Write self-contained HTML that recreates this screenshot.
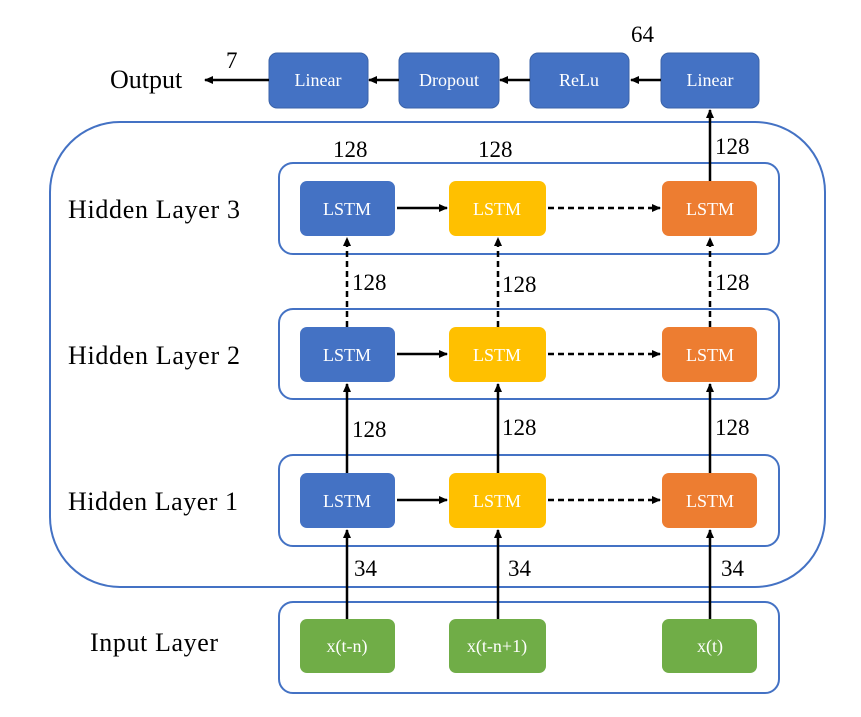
<!DOCTYPE html>
<html><head><meta charset="utf-8"><style>
body{margin:0;background:#fff}
svg, svg text{font-family:"Liberation Serif","DejaVu Serif",serif !important}
</style></head><body>
<svg width="861" height="712" viewBox="0 0 861 712" xmlns="http://www.w3.org/2000/svg" font-family="Liberation Serif, serif">
<defs>
<marker id="a" markerWidth="10" markerHeight="10" refX="8" refY="5" orient="auto" markerUnits="userSpaceOnUse">
<path d="M0,1 L9,5 L0,9 z" fill="#000"/></marker>
</defs>
<rect x="50" y="122" width="775" height="465" rx="70" fill="none" stroke="#4472c4" stroke-width="2"/>
<g fill="none" stroke="#4472c4" stroke-width="2">
<rect x="279" y="163" width="500" height="91" rx="14"/>
<rect x="279" y="309" width="500" height="90" rx="14"/>
<rect x="279" y="455" width="500" height="91" rx="14"/>
<rect x="279" y="602" width="500" height="91" rx="14"/>
</g>
<g fill="#4472c4" stroke="#3a62a8" stroke-width="1">
<rect x="269" y="53" width="99" height="55" rx="8"/>
<rect x="399" y="53" width="100" height="55" rx="8"/>
<rect x="530" y="53" width="99" height="55" rx="8"/>
<rect x="661" y="53" width="98" height="55" rx="8"/>
</g>
<g fill="#fff" font-size="18" text-anchor="middle">
<text x="318" y="86">Linear</text><text x="449" y="86">Dropout</text>
<text x="579" y="86">ReLu</text><text x="710" y="86">Linear</text>
</g>
<g stroke="#000" stroke-width="2.5" marker-end="url(#a)">
<line x1="269" y1="80" x2="205" y2="80"/>
<line x1="399" y1="80" x2="369" y2="80"/>
<line x1="530" y1="80" x2="500" y2="80"/>
<line x1="661" y1="80" x2="631" y2="80"/>
<line x1="710" y1="181" x2="710" y2="110"/>
</g>
<text x="110" y="88" font-size="26">Output</text>
<text x="226" y="68" font-size="23">7</text>
<text x="631" y="42" font-size="23">64</text>
<g font-size="23">
<text x="333" y="157">128</text><text x="478" y="157">128</text><text x="715" y="154">128</text>
<text x="352" y="290">128</text><text x="502" y="292">128</text><text x="715" y="290">128</text>
<text x="352" y="437">128</text><text x="502" y="435">128</text><text x="715" y="435">128</text>
<text x="354" y="576">34</text><text x="508" y="576">34</text><text x="721" y="576">34</text>
</g>
<g font-size="26">
<text x="68" y="218" textLength="172">Hidden Layer 3</text>
<text x="68" y="364" textLength="172">Hidden Layer 2</text>
<text x="68" y="510" textLength="170">Hidden Layer 1</text>
<text x="90" y="651" textLength="128">Input Layer</text>
</g>
<g id="row">
<rect x="300" y="181" width="95" height="55" rx="7" fill="#4472c4"/>
<rect x="449" y="181" width="97" height="55" rx="7" fill="#ffc000"/>
<rect x="662" y="181" width="95" height="55" rx="7" fill="#ed7d31"/>
</g>
<use href="#row" y="146"/><use href="#row" y="292"/>
<g fill="#fff" font-size="18" text-anchor="middle">
<text x="347" y="215">LSTM</text><text x="497" y="215">LSTM</text><text x="710" y="215">LSTM</text>
<text x="347" y="361">LSTM</text><text x="497" y="361">LSTM</text><text x="710" y="361">LSTM</text>
<text x="347" y="507">LSTM</text><text x="497" y="507">LSTM</text><text x="710" y="507">LSTM</text>
</g>
<g fill="#70ad47">
<rect x="300" y="619" width="95" height="54" rx="7"/>
<rect x="449" y="619" width="97" height="54" rx="7"/>
<rect x="662" y="619" width="95" height="54" rx="7"/>
</g>
<g fill="#fff" font-size="18" text-anchor="middle">
<text x="347" y="652">x(t-n)</text><text x="497" y="652">x(t-n+1)</text><text x="710" y="652">x(t)</text>
</g>
<g stroke="#000" stroke-width="2.5" marker-end="url(#a)">
<line x1="397" y1="208" x2="447" y2="208"/>
<line x1="397" y1="354" x2="447" y2="354"/>
<line x1="397" y1="500" x2="447" y2="500"/>
<line x1="347" y1="473" x2="347" y2="384"/>
<line x1="498" y1="473" x2="498" y2="384"/>
<line x1="710" y1="473" x2="710" y2="384"/>
<line x1="347" y1="619" x2="347" y2="530"/>
<line x1="498" y1="619" x2="498" y2="530"/>
<line x1="710" y1="619" x2="710" y2="530"/>
</g>
<g stroke="#000" stroke-width="2.5" stroke-dasharray="6,4" marker-end="url(#a)">
<line x1="548" y1="208" x2="660" y2="208"/>
<line x1="548" y1="354" x2="660" y2="354"/>
<line x1="548" y1="500" x2="660" y2="500"/>
<line x1="347" y1="327" x2="347" y2="238"/>
<line x1="498" y1="327" x2="498" y2="238"/>
<line x1="710" y1="327" x2="710" y2="238"/>
</g>
</svg>
</body></html>
